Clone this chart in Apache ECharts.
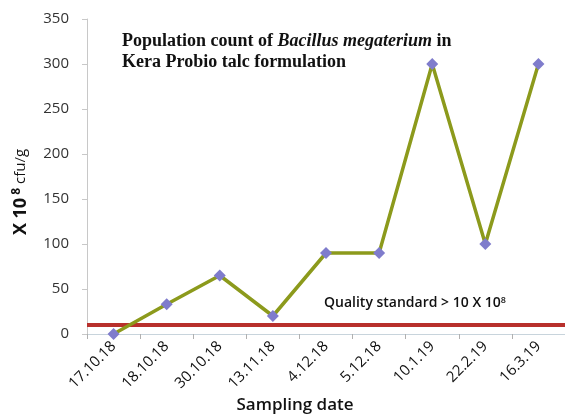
<!DOCTYPE html>
<html>
<head>
<meta charset="utf-8">
<script src="https://cdn.jsdelivr.net/npm/echarts@6/dist/echarts.min.js"></script>
<style>html,body{margin:0;padding:0;background:#fff;}#c{width:565px;height:416px;}</style>
</head>
<body>
<div id="c"></div>
<script>
var categories = ['17.10.18','18.10.18','30.10.18','13.11.18','4.12.18','5.12.18','10.1.19','22.2.19','16.3.19'];
var population = [0, 33, 65, 20, 90, 90, 300, 100, 300];
var qualityStandard = 10;
var yTicks = [0, 50, 100, 150, 200, 250, 300, 350];

var chart = echarts.init(document.getElementById('c'), null, {renderer: 'canvas'});
chart.setOption({
  animation: false,
  backgroundColor: '#fff',
  title: {
    left: 117, top: 26,
    text: '{b|Population count of }{i|Bacillus megaterium}{b| in}\n{b|Kera Probio talc formulation}',
    textStyle: {
      rich: {
        b: {fontFamily: 'Liberation Serif', fontWeight: 'bold', fontSize: 18, color: '#111', lineHeight: 21},
        i: {fontFamily: 'Liberation Serif', fontStyle: 'italic', fontSize: 18, color: '#111', lineHeight: 21}
      }
    }
  },
  grid: {left: 87, top: 19, width: 480, bottom: 82},
  xAxis: {
    type: 'category',
    data: categories,
    boundaryGap: true,
    axisLine: {lineStyle: {color: '#c8d4dc', width: 1}},
    axisTick: {show: true, length: 5, lineStyle: {color: '#b0b0b0'}},
    axisLabel: {rotate: 45, fontFamily: 'Open Sans', fontSize: 15, color: '#111', margin: 10, interval: 0},
    splitLine: {show: false}
  },
  yAxis: {
    type: 'value',
    min: yTicks[0], max: yTicks[yTicks.length - 1], interval: 50,
    axisLine: {show: true, lineStyle: {color: '#c8c8c8'}},
    axisTick: {show: true, length: 5, lineStyle: {color: '#c8c8c8'}},
    axisLabel: {fontFamily: 'Open Sans', fontSize: 15, color: '#333', margin: 18},
    splitLine: {show: false}
  },
  series: [{
    type: 'line',
    data: population,
    symbol: 'diamond',
    symbolSize: 12,
    itemStyle: {color: '#7f7ccc'},
    lineStyle: {color: '#8c9a1c', width: 3.5},
    z: 3,
    markLine: {
      silent: true,
      symbol: 'none',
      data: [{yAxis: qualityStandard}],
      lineStyle: {color: '#b8302c', width: 4, type: 'solid'},
      label: {show: false},
      z: 2
    }
  }],
  graphic: [{
    type: 'text',
    left: 324, top: 296,
    style: {
      text: '{t|Quality standard > 10 X 10}{s|8}',
      rich: {
        t: {fontFamily: 'Open Sans', fontWeight: 600, fontSize: 14, fill: '#111'},
        s: {fontFamily: 'Open Sans', fontWeight: 600, fontSize: 9, fill: '#111', verticalAlign: 'top', padding: [0,0,6,0]}
      }
    }
  }, {
    type: 'text',
    x: 295, y: 405,
    style: {
      text: 'Sampling date',
      fontFamily: 'Open Sans', fontWeight: 600, fontSize: 17, fill: '#111',
      align: 'center', verticalAlign: 'middle'
    }
  }, {
    type: 'text',
    x: 21, y: 192,
    rotation: Math.PI / 2,
    style: {
      text: '{b|X 10}{s| 8}{n| cfu/g}',
      align: 'center', verticalAlign: 'middle',
      rich: {
        b: {fontFamily: 'Open Sans', fontWeight: 'bold', fontSize: 18, fill: '#111'},
        s: {fontFamily: 'Open Sans', fontWeight: 'bold', fontSize: 12, fill: '#111', verticalAlign: 'top', padding: [0,0,9,0]},
        n: {fontFamily: 'Open Sans', fontSize: 15, fill: '#111'}
      }
    }
  }]
});
</script>
</body>
</html>
